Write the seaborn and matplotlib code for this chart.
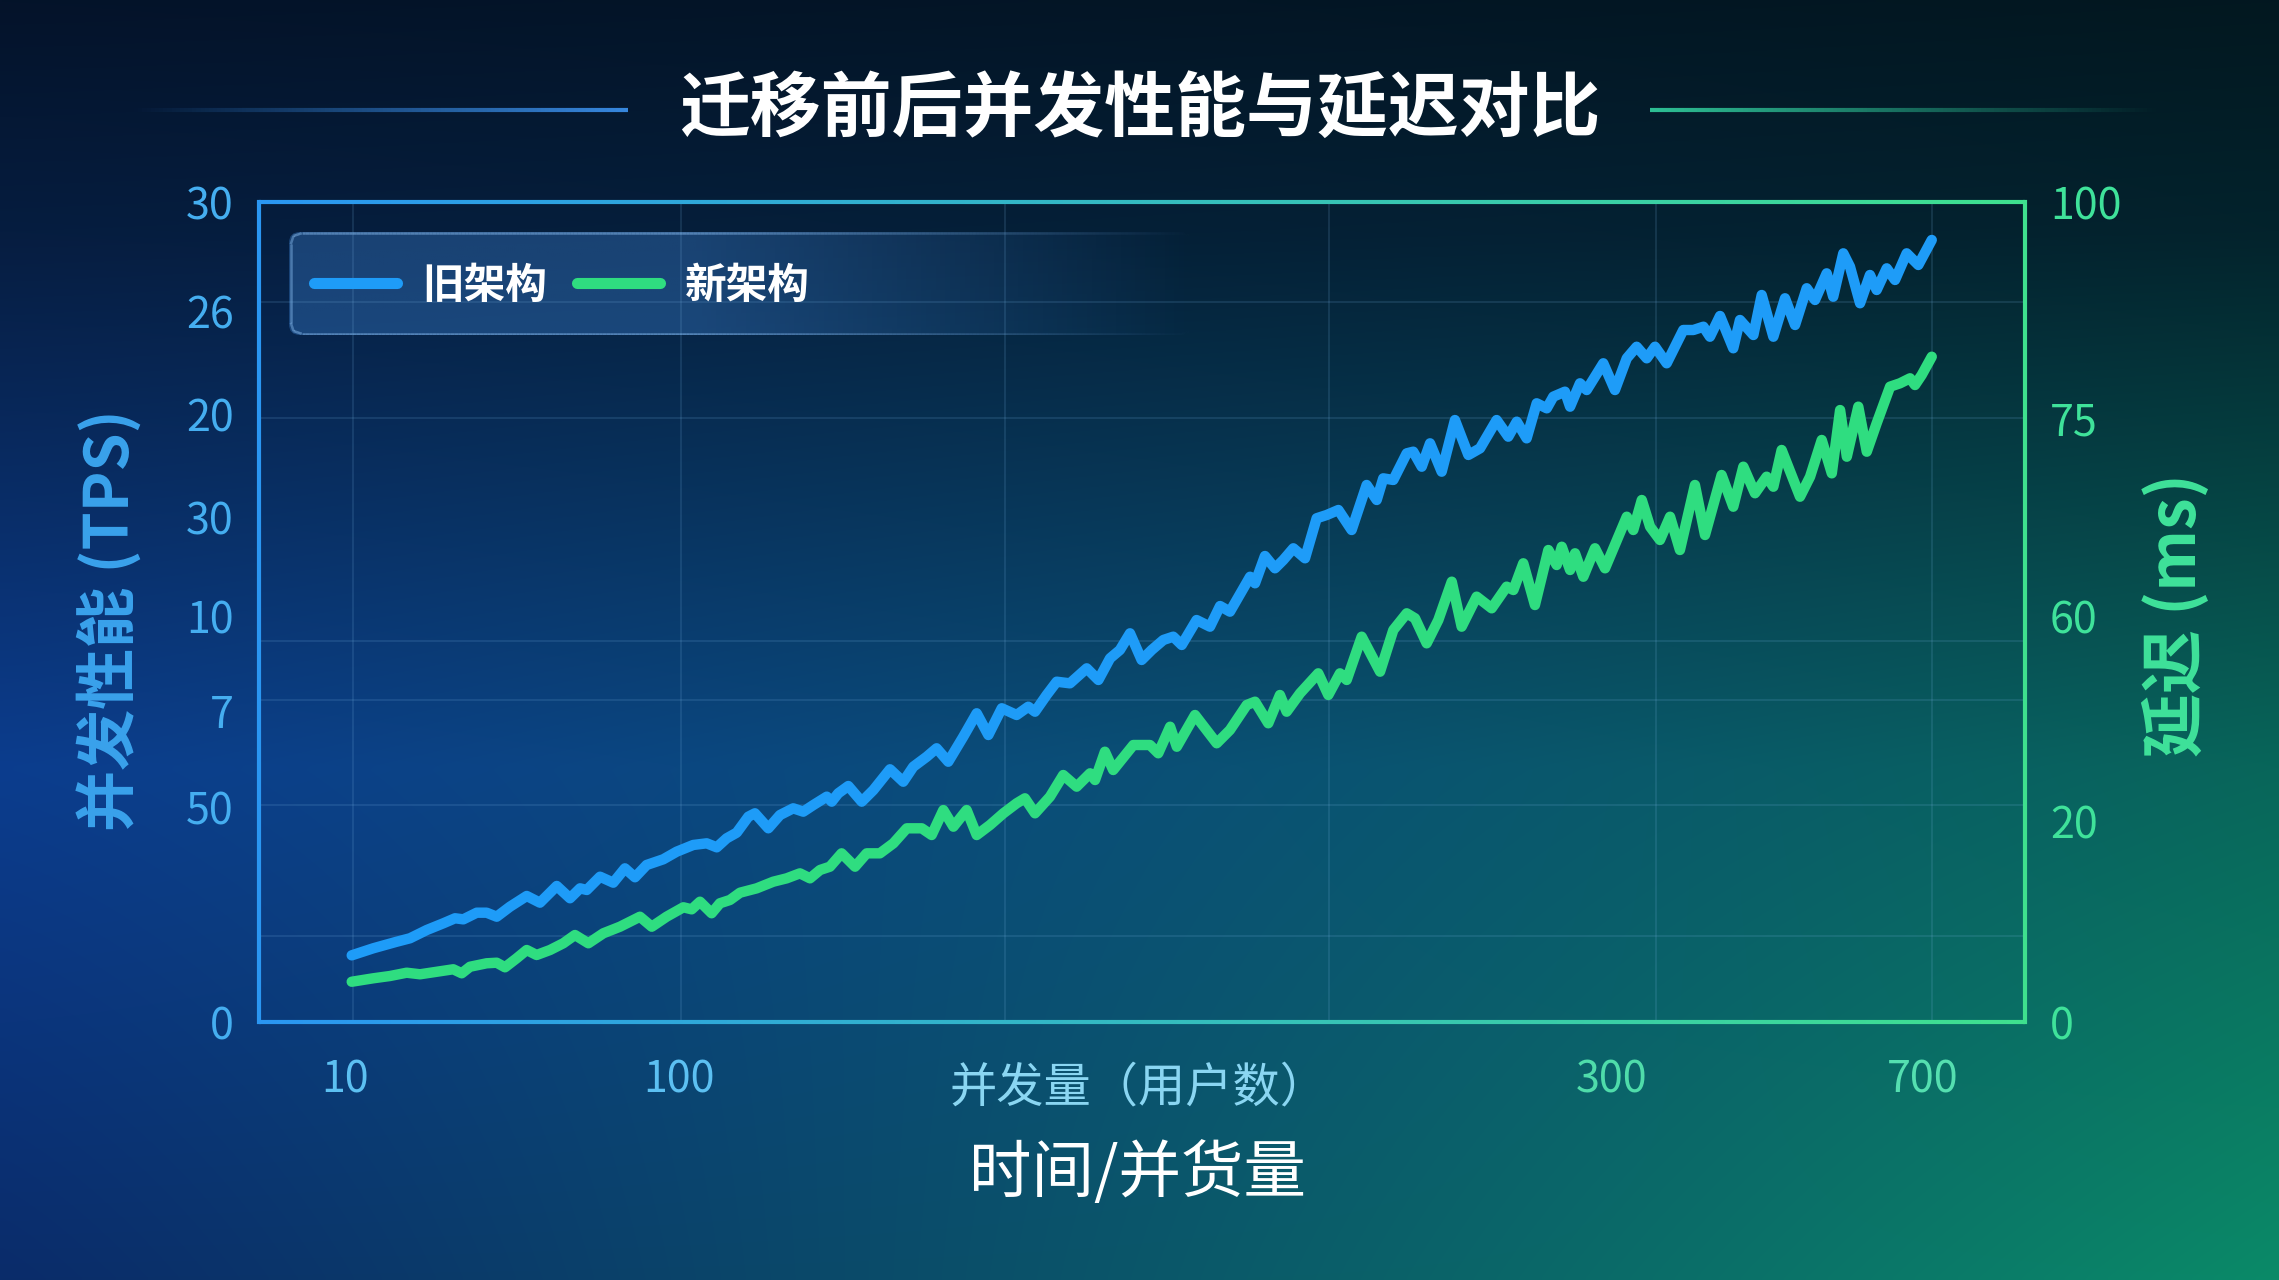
import numpy as np
import pandas as pd
import matplotlib
matplotlib.use("Agg")
import matplotlib.pyplot as plt
import seaborn as sns
from matplotlib.collections import LineCollection
from matplotlib.patches import FancyBboxPatch
from matplotlib.lines import Line2D
from matplotlib.colors import to_rgb

# ---------------- data ----------------
series_names = ["旧架构", "新架构"]

old_x = [5.25, 6.47, 7.80, 8.55, 9.50, 10.44, 11.10, 11.57, 12.33, 12.89,
         13.46, 14.21, 15.16, 15.91, 16.86, 17.61, 18.18, 18.56, 19.31, 20.06,
         20.72, 21.29, 21.95, 22.89, 23.65, 24.59, 25.35, 25.92, 26.48, 27.05,
         27.71, 28.08, 28.84, 29.50, 30.25, 30.82, 31.39, 32.15, 32.43, 32.80,
         33.37, 34.13, 34.79, 35.73, 36.48, 37.05, 37.81, 38.37, 39.03, 39.88,
         40.64, 41.30, 42.06, 42.90, 43.56, 43.94, 44.60, 45.17, 45.92, 46.87,
         47.53, 48.19, 48.75, 49.32, 49.98, 50.55, 51.21, 51.77, 52.25, 53.09,
         53.85, 54.42, 54.98, 56.12, 56.40, 56.96, 57.53, 58.00, 58.57, 59.23,
         59.89, 60.46, 61.12, 61.87, 62.72, 63.29, 63.66, 64.23, 64.99, 65.36,
         65.84, 66.31, 66.97, 67.72, 68.48, 69.14, 70.08, 70.74, 71.22, 71.78,
         72.35, 72.92, 73.29, 73.95, 74.24, 74.80, 75.18, 76.12, 76.78, 77.45,
         78.01, 78.58, 79.05, 79.71, 80.65, 81.22, 81.79, 82.16, 82.73, 83.48,
         83.86, 84.62, 85.09, 85.75, 86.41, 86.98, 87.64, 88.11, 88.77, 89.14,
         89.71, 90.09, 90.66, 91.22, 91.60, 92.17, 92.64, 93.30, 93.96, 94.72]
old_y = [8.13, 8.99, 9.79, 10.21, 11.22, 12.04, 12.65, 12.52, 13.33, 13.33,
         12.84, 14.06, 15.37, 14.55, 16.59, 15.09, 16.30, 16.10, 17.72, 16.99,
         18.74, 17.65, 19.15, 19.84, 20.77, 21.59, 21.79, 21.30, 22.40, 23.09,
         25.04, 25.45, 23.62, 25.24, 26.06, 25.65, 26.46, 27.48, 26.87, 27.89,
         28.78, 26.87, 28.29, 30.82, 29.30, 31.13, 32.35, 33.38, 31.74, 34.79,
         37.65, 35.00, 38.26, 37.44, 38.45, 37.84, 39.88, 41.50, 41.30, 43.13,
         41.71, 44.35, 45.37, 47.40, 44.15, 45.37, 46.59, 46.99, 45.98, 49.02,
         48.21, 50.73, 50.04, 54.30, 53.50, 56.83, 55.33, 56.34, 57.77, 56.55,
         61.43, 61.83, 62.44, 60.00, 65.49, 63.66, 66.30, 66.10, 69.35, 69.55,
         67.72, 70.57, 67.11, 73.41, 69.15, 69.96, 73.41, 71.38, 73.21, 71.18,
         75.45, 74.84, 76.26, 76.87, 75.04, 77.89, 77.07, 80.33, 77.07, 80.94,
         82.35, 80.94, 82.35, 80.33, 84.39, 84.39, 84.79, 83.57, 86.10, 82.16,
         85.61, 83.78, 88.66, 83.57, 88.26, 85.00, 89.48, 88.05, 91.30, 88.45,
         93.74, 92.11, 87.65, 91.10, 89.27, 91.91, 90.49, 93.74, 92.32, 95.37]

new_x = [5.25, 6.47, 7.42, 8.36, 9.12, 10.06, 11.00, 11.48, 11.95, 12.89,
         13.46, 13.93, 14.59, 15.16, 15.72, 16.48, 17.23, 17.89, 18.65, 19.50,
         20.44, 21.57, 22.24, 23.08, 24.03, 24.50, 24.97, 25.63, 26.10, 26.67,
         27.24, 28.18, 29.12, 29.88, 30.63, 31.20, 31.77, 32.33, 32.99, 33.75,
         34.41, 35.16, 35.92, 36.68, 37.53, 38.09, 38.75, 39.32, 40.07, 40.64,
         41.39, 42.15, 42.90, 43.37, 43.94, 44.79, 45.54, 46.30, 47.06, 47.34,
         47.90, 48.37, 49.51, 50.45, 50.92, 51.59, 51.97, 53.00, 54.23, 54.98,
         55.93, 56.40, 57.15, 57.81, 58.19, 58.95, 59.98, 60.55, 61.21, 61.59,
         62.44, 63.48, 64.23, 64.99, 65.46, 66.12, 66.78, 67.54, 68.10, 68.95,
         69.80, 70.65, 71.03, 71.59, 72.25, 73.01, 73.48, 73.77, 74.24, 74.52,
         74.99, 75.65, 76.22, 77.45, 77.82, 78.30, 78.77, 79.33, 79.90, 80.46,
         81.31, 81.88, 82.82, 83.48, 84.05, 84.71, 85.37, 85.75, 86.22, 87.26,
         87.83, 88.49, 89.06, 89.53, 89.91, 90.56, 91.04, 91.60, 92.36, 92.92,
         93.49, 93.77, 94.15, 94.72]
new_y = [4.91, 5.33, 5.61, 6.01, 5.82, 6.13, 6.43, 5.94, 6.74, 7.16,
         7.23, 6.67, 7.77, 8.78, 8.17, 8.78, 9.60, 10.61, 9.60, 10.82,
         11.62, 12.84, 11.62, 12.84, 13.99, 13.74, 14.67, 13.26, 14.48, 14.88,
         15.77, 16.30, 17.11, 17.52, 18.13, 17.52, 18.54, 18.94, 20.57, 18.94,
         20.57, 20.57, 21.79, 23.62, 23.62, 22.80, 25.85, 23.82, 25.85, 22.80,
         24.02, 25.45, 26.67, 27.28, 25.45, 27.48, 30.12, 28.70, 30.33, 29.51,
         32.96, 30.73, 33.78, 33.78, 32.77, 36.01, 33.57, 37.44, 33.99, 35.61,
         38.66, 39.06, 36.43, 39.88, 37.84, 40.09, 42.52, 39.88, 42.52, 41.71,
         46.99, 42.72, 47.80, 49.84, 49.23, 46.18, 49.02, 53.70, 48.21, 51.87,
         50.45, 53.09, 52.68, 55.94, 50.85, 57.56, 55.73, 57.96, 55.12, 57.16,
         54.30, 57.77, 55.33, 61.62, 60.00, 63.66, 60.40, 58.78, 61.62, 57.56,
         65.49, 59.39, 66.71, 62.84, 67.72, 64.48, 66.50, 65.28, 69.76, 64.06,
         66.50, 70.98, 66.91, 74.63, 68.94, 75.04, 69.55, 73.01, 77.48, 77.89,
         78.50, 77.68, 78.90, 81.13]

left_tick_labels = ["0", "50", "7", "10", "30", "20", "26", "30"]
left_tick_vals = [0, 26.2, 37.9, 49.5, 61.5, 74.1, 86.7, 100]
right_tick_labels = ["0", "20", "60", "75", "100"]
right_tick_vals = [0, 24.5, 49.5, 73.6, 100]
x_tick_labels = ["10", "100", "300", "700"]
x_tick_vals = [4.9, 23.8, 76.6, 94.2]
grid_x = [5.35, 23.87, 42.22, 60.58, 79.09, 94.73]
grid_y = [10.5, 26.5, 39.3, 46.5, 61.5, 73.7, 87.8]

# ---------------- style ----------------
sns.set_theme(style="dark")
plt.rcParams["font.family"] = ["Noto Sans CJK SC", "DejaVu Sans"]
plt.rcParams["axes.unicode_minus"] = False

BLUE = "#1e9cf8"
GREEN = "#2fdd80"
LBLUE_TXT = "#45aef0"
GREEN_TXT = "#3fe29a"

W, H = 2279, 1280
fig = plt.figure(figsize=(W / 100, H / 100), dpi=100)

# ---- background gradient ----
def col_interp(stops, colors, s):
    cols = np.array([to_rgb(c) for c in colors])
    out = np.zeros((len(s), 3))
    for k in range(3):
        out[:, k] = np.interp(s, stops, cols[:, k])
    return out

gh, gw = 300, 530
s = np.linspace(0, 1, gh)
left_col = col_interp([0, 0.18, 0.6, 1.0], ["#04132a", "#061d40", "#0c3d8e", "#0a2c6a"], s)
right_col = col_interp([0, 0.18, 0.6, 1.0], ["#021820", "#03232c", "#08665a", "#0b8a68"], s)
t = np.linspace(0, 1, gw) ** 1.15
img = left_col[:, None, :] * (1 - t[None, :, None]) + right_col[:, None, :] * t[None, :, None]
bg = fig.add_axes([0, 0, 1, 1], zorder=0)
bg.imshow(img, aspect="auto", extent=[0, 1, 0, 1], interpolation="bilinear")
bg.set_xlim(0, 1)
bg.set_ylim(0, 1)
bg.axis("off")

# title decorative lines
def grad_line(axis, x0, x1, y, color, a0, a1, lw, transform):
    n = 120
    xs = np.linspace(x0, x1, n + 1)
    segs = [[(xs[i], y), (xs[i + 1], y)] for i in range(n)]
    rgb = to_rgb(color)
    alphas = np.linspace(a0, a1, n)
    cols = [(rgb[0], rgb[1], rgb[2], a) for a in alphas]
    lc = LineCollection(segs, colors=cols, linewidths=lw, transform=transform, clip_on=False)
    axis.add_collection(lc)

grad_line(bg, 130 / W, 628 / W, 1 - 110 / H, "#3a8ee8", 0.0, 0.95, 3, bg.transAxes)
grad_line(bg, 1650 / W, 2160 / W, 1 - 110 / H, "#30c89a", 0.95, 0.0, 3, bg.transAxes)

# legend background (fading box)
lx0, lx1 = 289 / W, 1195 / W
ly0, ly1 = 1 - 335 / H, 1 - 232 / H
lg = fig.add_axes([lx0, ly0, lx1 - lx0, ly1 - ly0], zorder=1)
lg.set_xlim(0, 1)
lg.set_ylim(0, 1)
lg.axis("off")


def fade_alpha(x, a):
    return np.clip(np.where(x < 0.45, a, a * (1 - (x - 0.45) / 0.55)), 0, 1)


ta = np.linspace(0, 1, 400)
lim = np.zeros((10, 400, 4))
lim[..., 0], lim[..., 1], lim[..., 2] = 0.22, 0.48, 0.78
lim[..., 3] = fade_alpha(ta, 0.40)[None, :]
aspect = (lx1 - lx0) * W / ((ly1 - ly0) * H)
box = FancyBboxPatch((0.0, 0.0), 1.0, 1.0, boxstyle="round,pad=0,rounding_size=0.012",
                     mutation_aspect=aspect, transform=lg.transData,
                     facecolor="none", edgecolor="none")
lg.add_patch(box)
im = lg.imshow(lim, aspect="auto", extent=[0, 1, 0, 1], interpolation="bilinear")
im.set_clip_path(box)

edge = FancyBboxPatch((0.002, 0.012), 0.996, 0.976, boxstyle="round,pad=0,rounding_size=0.012",
                      mutation_aspect=aspect)
raw = np.vstack([p for p in edge.get_path().to_polygons(closed_only=False)])
dense = [raw[0]]
for i in range(len(raw) - 1):
    a, b = raw[i], raw[i + 1]
    k = max(1, int(np.hypot(*(b - a)) / 0.004))
    for j in range(1, k + 1):
        dense.append(a + (b - a) * j / k)
dense = np.array(dense)
segs = [[tuple(dense[i]), tuple(dense[i + 1])] for i in range(len(dense) - 1)]
mids = (dense[:-1, 0] + dense[1:, 0]) / 2
ecols = [(0.55, 0.75, 0.95, a) for a in fade_alpha(mids, 0.5)]
lg.add_collection(LineCollection(segs, colors=ecols, linewidths=1.8, transform=lg.transData))

# ---- main axes ----
ax = fig.add_axes([259 / W, 1 - 1022 / H, 1766 / W, 820 / H], zorder=2)
ax.patch.set_alpha(0)

df = pd.concat([
    pd.DataFrame({"x": old_x, "y": old_y, "series": series_names[0]}),
    pd.DataFrame({"x": new_x, "y": new_y, "series": series_names[1]}),
], ignore_index=True)

sns.lineplot(data=df, x="x", y="y", hue="series", palette=[BLUE, GREEN],
             linewidth=7.5, sort=False, estimator=None, legend=False, ax=ax)
for ln in ax.lines:
    ln.set_solid_capstyle("round")
    ln.set_solid_joinstyle("round")

ax.set_xlim(0, 100)
ax.set_ylim(0, 100)
ax.set_xlabel("")
ax.set_ylabel("")

ax.set_xticks(x_tick_vals)
ax.set_xticklabels(x_tick_labels, fontsize=31)
for lab, c in zip(ax.get_xticklabels(), ["#5cc0f2", "#5cc0f2", "#4fdcaa", "#55dfb0"]):
    lab.set_color(c)
ax.set_yticks(left_tick_vals)
ax.set_yticklabels(left_tick_labels, fontsize=31, color=LBLUE_TXT)
ax.set_xticks(grid_x, minor=True)
ax.set_yticks(grid_y, minor=True)
ax.tick_params(axis="y", which="major", length=0, pad=18)
ax.tick_params(axis="x", which="major", length=0, pad=26)
ax.tick_params(which="minor", length=0)
ax.grid(False)
ax.grid(which="minor", color="#7ab6e6", alpha=0.16, linewidth=1.3)

ax2 = ax.twinx()
ax2.set_ylim(0, 100)
ax2.set_yticks(right_tick_vals)
ax2.set_yticklabels(right_tick_labels, fontsize=31, color=GREEN_TXT)
ax2.tick_params(axis="y", length=0, pad=18)
ax2.grid(False)
ax2.patch.set_alpha(0)

for a in (ax, ax2):
    for sp in a.spines.values():
        sp.set_visible(False)
ax.spines["left"].set_visible(True)
ax.spines["left"].set_color("#2a96f2")
ax.spines["left"].set_linewidth(3)
ax2.spines["right"].set_visible(True)
ax2.spines["right"].set_color("#3fe08e")
ax2.spines["right"].set_linewidth(3)

# gradient top & bottom spines
n = 200
xs = np.linspace(0, 1, n + 1)
c0, c1 = np.array(to_rgb("#2a96f2")), np.array(to_rgb("#3fe08e"))
for yv in (0.0, 1.0):
    segs = [[(xs[i], yv), (xs[i + 1], yv)] for i in range(n)]
    cols = [tuple(c0 * (1 - f) + c1 * f) for f in np.linspace(0, 1, n)]
    ax.add_collection(LineCollection(segs, colors=cols, linewidths=3,
                                     transform=ax.transAxes, clip_on=False, zorder=5))

# legend
handles = [Line2D([], [], color=BLUE, lw=8, solid_capstyle="round"),
           Line2D([], [], color=GREEN, lw=8, solid_capstyle="round")]
leg = ax.legend(handles, series_names, loc="center left", bbox_to_anchor=(0.010, 0.898),
                ncol=2, frameon=False, handlelength=2.0, handletextpad=0.6,
                columnspacing=0.7, prop={"size": 30, "weight": "bold"})
for txt in leg.get_texts():
    txt.set_color("white")

# ---- texts ----
fig.text(0.5, 1 - 110 / H, "迁移前后并发性能与延迟对比", ha="center", va="center",
         fontsize=51, fontweight="bold", color="white")
fig.text(109 / W, 1 - 620 / H, "并发性能 (TPS)", rotation=90, ha="center", va="center",
         fontsize=44, fontweight="bold", color="#3aa2ec")
fig.text(2176 / W, 1 - 615 / H, "延迟 (ms)", rotation=90, ha="center", va="center",
         fontsize=46, fontweight="bold", color=GREEN_TXT)
fig.text(1138 / W, 1 - 1088 / H, "并发量（用户数）", ha="center", va="center",
         fontsize=34, color="#8ad6f2")
fig.text(1137 / W, 1 - 1174 / H, "时间/并货量", ha="center", va="center",
         fontsize=45, color="white")

fig.savefig("out.png", dpi=100)
